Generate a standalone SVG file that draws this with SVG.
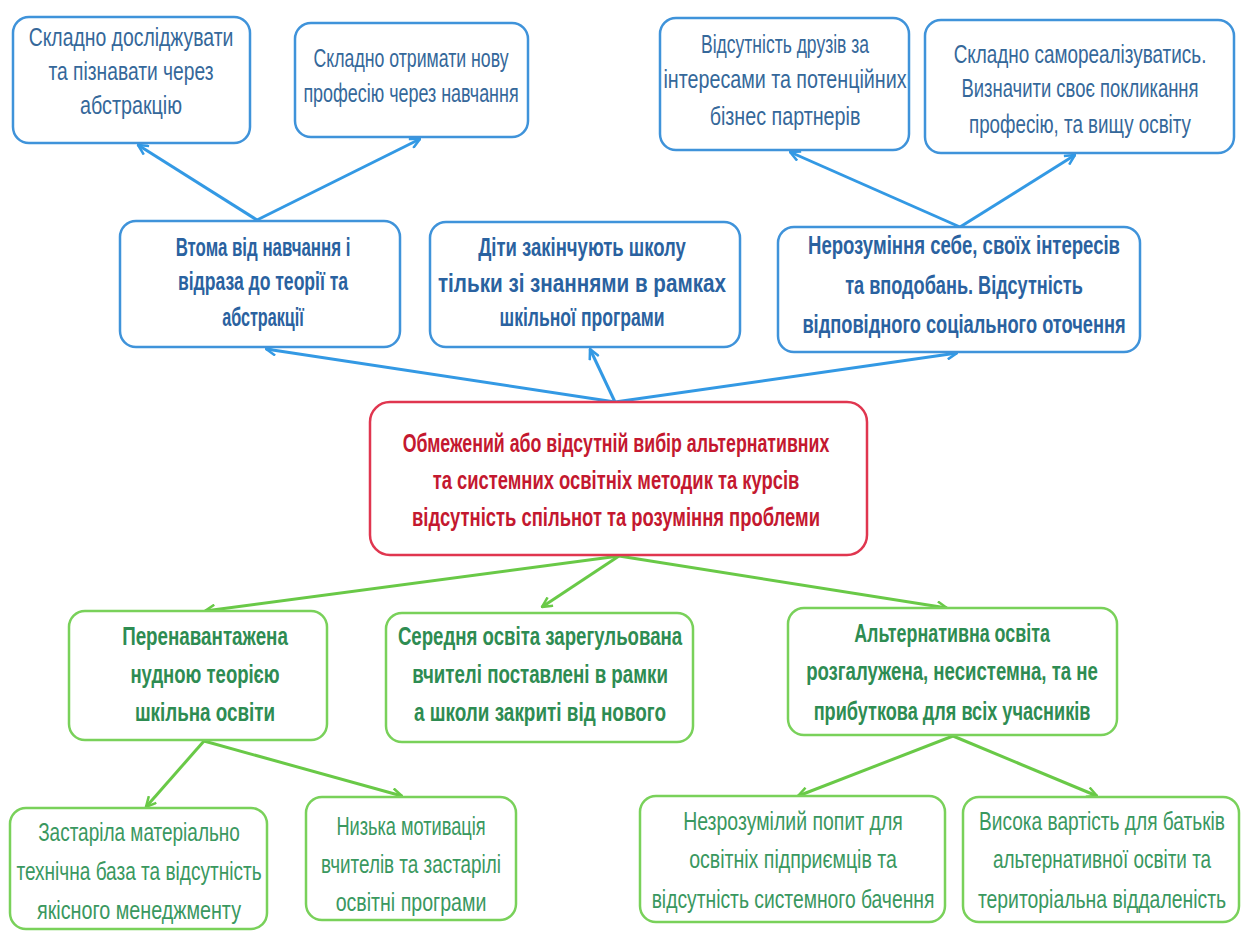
<svg xmlns="http://www.w3.org/2000/svg" width="1241" height="931" viewBox="0 0 1241 931">
  <defs>
    <style>
      text { font-family: "Liberation Sans", Arial, sans-serif; text-anchor: middle; }
      .box { fill: #ffffff; stroke-width: 2.5; }
      .blue { stroke: #3f93da; }
      .red { stroke: #e0364f; }
      .green { stroke: #79d15a; }
      .tb { fill: #35689a; font-size: 25px; }
      .tbb { fill: #2a62a0; font-size: 25px; font-weight: bold; }
      .tr { fill: #c4182f; font-size: 25px; font-weight: bold; }
      .tgb { fill: #2e8c52; font-size: 25px; font-weight: bold; }
      .tg { fill: #3a985f; font-size: 25px; }
      .lb { stroke: #3399e4; stroke-width: 3; fill: none; marker-end: url(#ab); }
      .lg { stroke: #69c947; stroke-width: 3; fill: none; marker-end: url(#ag); }
    </style>
    <marker id="ab" viewBox="0 0 12 12" refX="11" refY="6" markerWidth="12" markerHeight="12" markerUnits="userSpaceOnUse" orient="auto">
      <path d="M1,1 L11,6 L1,11" fill="none" stroke="#3399e4" stroke-width="2.5"/>
    </marker>
    <marker id="ag" viewBox="0 0 12 12" refX="11" refY="6" markerWidth="12" markerHeight="12" markerUnits="userSpaceOnUse" orient="auto">
      <path d="M1,1 L11,6 L1,11" fill="none" stroke="#69c947" stroke-width="2.5"/>
    </marker>
  </defs>

  <rect width="1241" height="931" fill="#ffffff"/>

  <!-- connectors -->
  <g id="connectors">
    <line class="lb" x1="615" y1="402" x2="266" y2="349"/>
    <line class="lb" x1="615" y1="402" x2="590" y2="349"/>
    <line class="lb" x1="615" y1="402" x2="957" y2="353"/>
    <line class="lb" x1="257" y1="220" x2="138" y2="145"/>
    <line class="lb" x1="257" y1="220" x2="420" y2="139"/>
    <line class="lb" x1="960" y1="227" x2="790" y2="152"/>
    <line class="lb" x1="960" y1="227" x2="1075" y2="155"/>
    <line class="lg" x1="619" y1="556" x2="205" y2="611"/>
    <line class="lg" x1="619" y1="556" x2="542" y2="607"/>
    <line class="lg" x1="619" y1="556" x2="947" y2="608"/>
    <line class="lg" x1="204" y1="741" x2="146" y2="807"/>
    <line class="lg" x1="204" y1="741" x2="402" y2="796"/>
    <line class="lg" x1="953" y1="736" x2="798" y2="796"/>
    <line class="lg" x1="953" y1="736" x2="1097" y2="796"/>
  </g>

  <!-- top row; labels use a narrowed text column centred on each box -->
  <g id="n-abstr-explore">
    <rect class="box blue" x="13" y="17" width="237" height="126" rx="16"/>
    <g transform="translate(131 0) scale(0.75 1)">
      <text class="tb" x="0" y="46" textLength="273" lengthAdjust="spacingAndGlyphs">Складно досліджувати</text>
      <text class="tb" x="0" y="80" textLength="220" lengthAdjust="spacingAndGlyphs">та пізнавати через</text>
      <text class="tb" x="0" y="114" textLength="136" lengthAdjust="spacingAndGlyphs">абстракцію</text>
    </g>
  </g>
  <g id="n-new-profession">
    <rect class="box blue" x="295" y="23" width="233" height="114" rx="16"/>
    <g transform="translate(411 0) scale(0.75 1)">
      <text class="tb" x="0" y="67" textLength="260" lengthAdjust="spacingAndGlyphs">Складно отримати нову</text>
      <text class="tb" x="0" y="102" textLength="287" lengthAdjust="spacingAndGlyphs">професію через навчання</text>
    </g>
  </g>
  <g id="n-no-friends">
    <rect class="box blue" x="660" y="18" width="249" height="132" rx="16"/>
    <g transform="translate(785 0) scale(0.75 1)">
      <text class="tb" x="0" y="53" textLength="224" lengthAdjust="spacingAndGlyphs">Відсутність друзів за</text>
      <text class="tb" x="0" y="88" textLength="324" lengthAdjust="spacingAndGlyphs">інтересами та потенційних</text>
      <text class="tb" x="0" y="125" textLength="201" lengthAdjust="spacingAndGlyphs">бізнес партнерів</text>
    </g>
  </g>
  <g id="n-self-realize">
    <rect class="box blue" x="925" y="20" width="309" height="133" rx="16"/>
    <g transform="translate(1080 0) scale(0.75 1)">
      <text class="tb" x="0" y="63" textLength="337" lengthAdjust="spacingAndGlyphs">Складно самореалізуватись.</text>
      <text class="tb" x="0" y="97" textLength="316" lengthAdjust="spacingAndGlyphs">Визначити своє покликання</text>
      <text class="tb" x="0" y="133" textLength="296" lengthAdjust="spacingAndGlyphs">професію, та вищу освіту</text>
    </g>
  </g>

  <!-- middle row -->
  <g id="n-fatigue">
    <rect class="box blue" x="120" y="221" width="280" height="126" rx="16"/>
    <g transform="translate(263 0) scale(0.75 1)">
      <text class="tbb" x="0" y="256" textLength="233" lengthAdjust="spacingAndGlyphs">Втома від навчання і</text>
      <text class="tbb" x="0" y="290" textLength="227" lengthAdjust="spacingAndGlyphs">відраза до теорії та</text>
      <text class="tbb" x="0" y="326" textLength="109" lengthAdjust="spacingAndGlyphs">абстракції</text>
    </g>
  </g>
  <g id="n-school-only">
    <rect class="box blue" x="430" y="222" width="310" height="125" rx="16"/>
    <g transform="translate(582 0) scale(0.75 1)">
      <text class="tbb" x="0" y="256" textLength="277" lengthAdjust="spacingAndGlyphs">Діти закінчують школу</text>
      <text class="tbb" x="0" y="292" textLength="384" lengthAdjust="spacingAndGlyphs">тільки зі знаннями в рамках</text>
      <text class="tbb" x="0" y="326" textLength="220" lengthAdjust="spacingAndGlyphs">шкільної програми</text>
    </g>
  </g>
  <g id="n-self-understanding">
    <rect class="box blue" x="778" y="227" width="362" height="125" rx="16"/>
    <g transform="translate(964 0) scale(0.75 1)">
      <text class="tbb" x="0" y="254" textLength="416" lengthAdjust="spacingAndGlyphs">Нерозуміння себе, своїх інтересів</text>
      <text class="tbb" x="0" y="294" textLength="317" lengthAdjust="spacingAndGlyphs">та вподобань. Відсутність</text>
      <text class="tbb" x="0" y="333" textLength="431" lengthAdjust="spacingAndGlyphs">відповідного соціального оточення</text>
    </g>
  </g>

  <!-- central problem -->
  <g id="n-core">
    <rect class="box red" x="370" y="402" width="497" height="153" rx="20"/>
    <g transform="translate(616 0) scale(0.75 1)">
      <text class="tr" x="0" y="452" textLength="569" lengthAdjust="spacingAndGlyphs">Обмежений або відсутній вибір альтернативних</text>
      <text class="tr" x="0" y="489" textLength="489" lengthAdjust="spacingAndGlyphs">та системних освітніх методик та курсів</text>
      <text class="tr" x="0" y="526" textLength="544" lengthAdjust="spacingAndGlyphs">відсутність спільнот та розуміння проблеми</text>
    </g>
  </g>

  <!-- lower row -->
  <g id="n-overloaded">
    <rect class="box green" x="69" y="611" width="258" height="129" rx="16"/>
    <g transform="translate(205 0) scale(0.75 1)">
      <text class="tgb" x="0" y="645" textLength="221" lengthAdjust="spacingAndGlyphs">Перенавантажена</text>
      <text class="tgb" x="0" y="683" textLength="199" lengthAdjust="spacingAndGlyphs">нудною теорією</text>
      <text class="tgb" x="0" y="721" textLength="187" lengthAdjust="spacingAndGlyphs">шкільна освіти</text>
    </g>
  </g>
  <g id="n-regulated">
    <rect class="box green" x="386" y="613" width="307" height="129" rx="16"/>
    <g transform="translate(540 0) scale(0.75 1)">
      <text class="tgb" x="0" y="645" textLength="379" lengthAdjust="spacingAndGlyphs">Середня освіта зарегульована</text>
      <text class="tgb" x="0" y="683" textLength="341" lengthAdjust="spacingAndGlyphs">вчителі поставлені в рамки</text>
      <text class="tgb" x="0" y="721" textLength="336" lengthAdjust="spacingAndGlyphs">а школи закриті від нового</text>
    </g>
  </g>
  <g id="n-alternative">
    <rect class="box green" x="788" y="608" width="329" height="127" rx="16"/>
    <g transform="translate(952 0) scale(0.75 1)">
      <text class="tgb" x="0" y="642" textLength="261" lengthAdjust="spacingAndGlyphs">Альтернативна освіта</text>
      <text class="tgb" x="0" y="680" textLength="389" lengthAdjust="spacingAndGlyphs">розгалужена, несистемна, та не</text>
      <text class="tgb" x="0" y="720" textLength="369" lengthAdjust="spacingAndGlyphs">прибуткова для всіх учасників</text>
    </g>
  </g>

  <!-- bottom row -->
  <g id="n-outdated-base">
    <rect class="box green" x="10" y="808" width="257" height="121" rx="16"/>
    <g transform="translate(139 0) scale(0.75 1)">
      <text class="tg" x="0" y="841" textLength="269" lengthAdjust="spacingAndGlyphs">Застаріла матеріально</text>
      <text class="tg" x="0" y="880" textLength="327" lengthAdjust="spacingAndGlyphs">технічна база та відсутність</text>
      <text class="tg" x="0" y="919" textLength="272" lengthAdjust="spacingAndGlyphs">якісного менеджменту</text>
    </g>
  </g>
  <g id="n-low-motivation">
    <rect class="box green" x="306" y="797" width="210" height="123" rx="16"/>
    <g transform="translate(411 0) scale(0.75 1)">
      <text class="tg" x="0" y="835" textLength="199" lengthAdjust="spacingAndGlyphs">Низька мотивація</text>
      <text class="tg" x="0" y="873" textLength="240" lengthAdjust="spacingAndGlyphs">вчителів та застарілі</text>
      <text class="tg" x="0" y="911" textLength="201" lengthAdjust="spacingAndGlyphs">освітні програми</text>
    </g>
  </g>
  <g id="n-unclear-demand">
    <rect class="box green" x="640" y="796" width="305" height="126" rx="16"/>
    <g transform="translate(793 0) scale(0.75 1)">
      <text class="tg" x="0" y="830" textLength="293" lengthAdjust="spacingAndGlyphs">Незрозумілий попит для</text>
      <text class="tg" x="0" y="868" textLength="277" lengthAdjust="spacingAndGlyphs">освітніх підприємців та</text>
      <text class="tg" x="0" y="908" textLength="377" lengthAdjust="spacingAndGlyphs">відсутність системного бачення</text>
    </g>
  </g>
  <g id="n-high-cost">
    <rect class="box green" x="963" y="797" width="276" height="125" rx="16"/>
    <g transform="translate(1102 0) scale(0.75 1)">
      <text class="tg" x="0" y="830" textLength="328" lengthAdjust="spacingAndGlyphs">Висока вартість для батьків</text>
      <text class="tg" x="0" y="868" textLength="291" lengthAdjust="spacingAndGlyphs">альтернативної освіти та</text>
      <text class="tg" x="0" y="908" textLength="331" lengthAdjust="spacingAndGlyphs">територіальна віддаленість</text>
    </g>
  </g>
</svg>
